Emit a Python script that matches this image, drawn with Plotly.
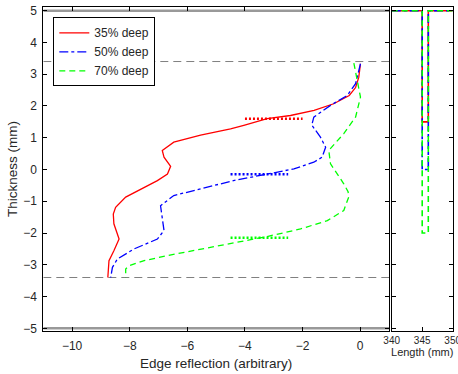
import plotly.graph_objects as go

# ---- data ----
red_x = [0.01, -0.05, -0.16, -0.38, -0.92, -1.6, -2.42, -3.23, -4.04, -4.5, -5.54, -6.47, -6.87, -6.81,
         -6.58, -6.69, -7.04, -7.68, -8.14, -8.49, -8.57, -8.55, -8.37, -8.55, -8.72, -8.76]
red_y = [3.33, 2.9, 2.58, 2.33, 2.07, 1.86, 1.7, 1.6, 1.39, 1.28, 1.08, 0.86, 0.6, 0.39,
         0.1, -0.14, -0.35, -0.66, -0.87, -1.19, -1.4, -1.71, -2.19, -2.56, -2.87, -3.4]

blue_x = [0.01, -0.16, -0.45, -1.03, -1.61, -1.68, -1.38, -1.2, -1.32, -1.61, -2.3, -3.23, -4.4,
          -5.54, -6.47, -6.93, -6.87, -6.81, -7.04, -7.85, -8.43, -8.6, -8.66]
blue_y = [3.33, 2.7, 2.33, 2.02, 1.65, 1.4, 1.02, 0.7, 0.39, 0.23, 0.02, -0.14, -0.35,
          -0.61, -0.82, -1.14, -1.5, -1.92, -2.19, -2.5, -2.82, -3.08, -3.4]

green_x = [-0.22, -0.05, 0.01, -0.16, -0.57, -1.09, -1.03, -0.57, -0.42, -0.4, -0.57, -1.14, -2.07,
           -3.23, -4.4, -5.54, -6.69, -7.5, -8.03, -8.14, -8.14]
green_y = [3.35, 2.6, 2.28, 1.65, 1.13, 0.6, 0.18, -0.45, -0.7, -0.87, -1.29, -1.61, -1.87,
           -2.11, -2.31, -2.5, -2.71, -2.87, -3.03, -3.13, -3.4]

# dotted markers (x start, x end, y)
red_mark = ([-4.0, -2.0], [1.6, 1.6])
blue_mark = ([-4.5, -2.5], [-0.15, -0.15])
green_mark = ([-4.5, -2.5], [-2.15, -2.15])

# slot profiles (right panel)
slot_x = [340, 345, 345, 346, 346, 350]
red_slot_y = [5, 5, 1.5, 1.5, 5, 5]
blue_slot_y = [5, 5, 0, 0, 5, 5]
green_slot_y = [5, 5, -2, -2, 5, 5]

labels = ["35% deep", "50% deep", "70% deep"]
surf_x = [-11, 1]
surf_top = [5, 5]
surf_bot = [-5, -5]
bound_top = [3.4, 3.4]
bound_bot = [-3.4, -3.4]

RED, BLUE, GREEN, GRAY = "#FF0000", "#0000FF", "#00FF00", "#808080"

fig = go.Figure()
# surfaces & boundaries
fig.add_trace(go.Scatter(x=surf_x, y=surf_top, mode="lines", line=dict(color="#999999", width=2.5), showlegend=False))
fig.add_trace(go.Scatter(x=surf_x, y=surf_bot, mode="lines", line=dict(color="#999999", width=2.5), showlegend=False))
fig.add_trace(go.Scatter(x=surf_x, y=bound_top, mode="lines", line=dict(color=GRAY, width=1, dash="8px,5px"), showlegend=False))
fig.add_trace(go.Scatter(x=surf_x, y=bound_bot, mode="lines", line=dict(color=GRAY, width=1, dash="8px,5px"), showlegend=False))

fig.add_trace(go.Scatter(x=red_x, y=red_y, mode="lines", name=labels[0], line=dict(color=RED, width=1.3)))
fig.add_trace(go.Scatter(x=blue_x, y=blue_y, mode="lines", name=labels[1], line=dict(color=BLUE, width=1.3, dash="dashdot")))
fig.add_trace(go.Scatter(x=green_x, y=green_y, mode="lines", name=labels[2], line=dict(color=GREEN, width=1.3, dash="6px,4px")))

fig.add_trace(go.Scatter(x=red_mark[0], y=red_mark[1], mode="lines", line=dict(color=RED, width=2.5, dash="2px,2px"), showlegend=False))
fig.add_trace(go.Scatter(x=blue_mark[0], y=blue_mark[1], mode="lines", line=dict(color=BLUE, width=2.5, dash="2px,2px"), showlegend=False))
fig.add_trace(go.Scatter(x=green_mark[0], y=green_mark[1], mode="lines", line=dict(color=GREEN, width=2.5, dash="2px,2px"), showlegend=False))

# right panel
fig.add_trace(go.Scatter(x=slot_x, y=red_slot_y, mode="lines", xaxis="x2", yaxis="y2", line=dict(color=RED, width=1.6), showlegend=False))
fig.add_trace(go.Scatter(x=slot_x, y=blue_slot_y, mode="lines", xaxis="x2", yaxis="y2", line=dict(color=BLUE, width=1.6, dash="dashdot"), showlegend=False))
fig.add_trace(go.Scatter(x=slot_x, y=green_slot_y, mode="lines", xaxis="x2", yaxis="y2", line=dict(color=GREEN, width=1.6, dash="6px,4px"), showlegend=False))

FONT = "Liberation Sans, Arial, sans-serif"
TXT = "#262626"
ydom = [1 - 330.7 / 374, 1 - 7.3 / 374]
yrange = [-5.075, 5.107]

axis_common = dict(showline=True, linecolor="black", linewidth=1, mirror="ticks", ticks="inside",
                   ticklen=4, tickcolor="black", showgrid=False, zeroline=False, automargin=False)

fig.update_layout(
    width=458, height=374,
    margin=dict(l=0, r=0, t=0, b=0, autoexpand=False),
    paper_bgcolor="white", plot_bgcolor="white",
    font=dict(family=FONT, color=TXT),
    xaxis=dict(domain=[43.3 / 458, 389 / 458], range=[-11, 1], tickvals=[-10, -8, -6, -4, -2, 0],
               tickfont=dict(size=12, color=TXT), ticklabelstandoff=4,
               title=dict(text="Edge reflection (arbitrary)", font=dict(size=13.5, color=TXT), standoff=6),
               **axis_common),
    yaxis=dict(domain=ydom, range=yrange, tickvals=list(range(-5, 6)),
               tickfont=dict(size=12, color=TXT), ticklabelstandoff=3,
               title=dict(text="Thickness (mm)", font=dict(size=13.5, color=TXT), standoff=2),
               **axis_common),
    xaxis2=dict(domain=[391.7 / 458, 452.7 / 458], range=[340, 350], tickvals=[340, 345, 350], anchor="y2",
                tickfont=dict(size=10, color=TXT), ticklabeloverflow="allow",
                title=dict(text="Length (mm)", font=dict(size=11, color=TXT), standoff=2),
                **axis_common),
    yaxis2=dict(domain=ydom, range=yrange, tickvals=list(range(-5, 6)), anchor="x2", showticklabels=False,
                **axis_common),
    legend=dict(x=53.3 / 458, y=1 - 17.3 / 374, xanchor="left", yanchor="top",
                bgcolor="white", bordercolor="black", borderwidth=1,
                font=dict(size=12, color=TXT), tracegroupgap=0, itemwidth=30),
    showlegend=True,
)

fig.write_html("out.html")
